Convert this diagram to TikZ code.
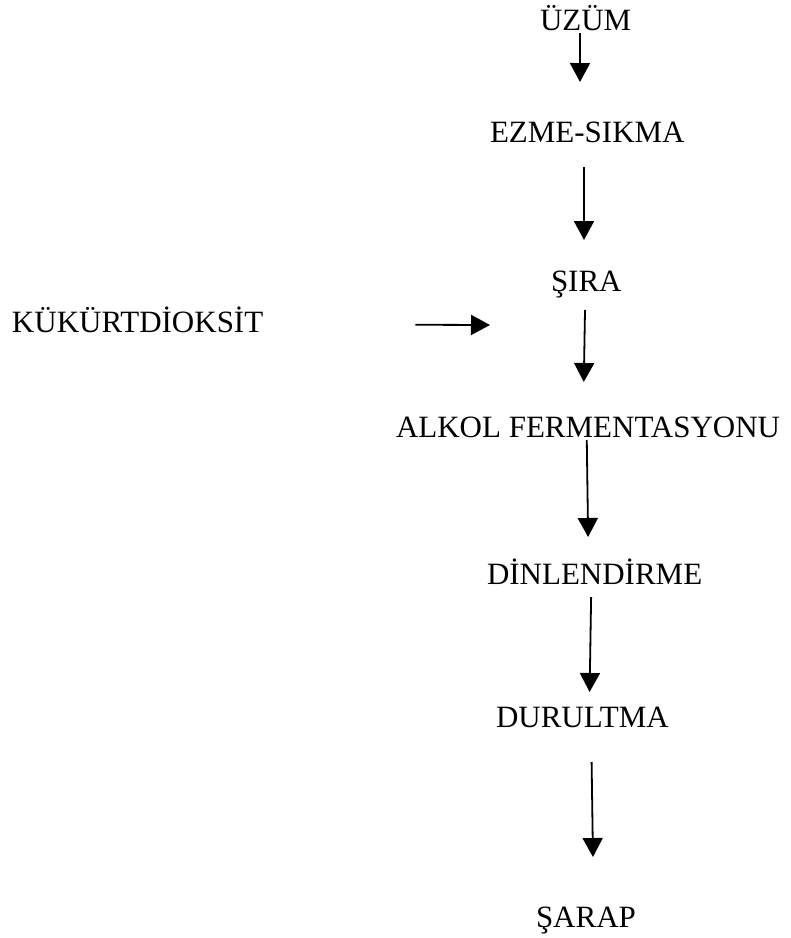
\documentclass[tikz,border=0pt]{standalone}
\usepackage{fontspec}
\setmainfont{Liberation Serif}
\usetikzlibrary{arrows.meta}
\tikzset{
  lbl/.style={inner sep=0pt, outer sep=0pt, anchor=base west, text height=20.5pt, text depth=0pt,
    font=\fontsize{31pt}{36pt}\selectfont},
  arr/.style={line width=1.8pt, -{Triangle[width=20pt,length=19pt]}},
}
\begin{document}
\begin{tikzpicture}[x=1pt,y=-1pt]
\useasboundingbox (0,0) rectangle (791,938);
\node[lbl] (uzum) at (540,30) {ÜZÜM};
\node[lbl] (ezme) at (490,142) {EZME-SIKMA};
\node[lbl] (sira) at (551,291) {ŞIRA};
\node[lbl] (kukurt) at (12,332) {KÜKÜRTDİOKSİT};
\node[lbl] (alkol) at (396,437) {ALKOL FERMENTASYONU};
\node[lbl] (dinlen) at (487,584) {DİNLENDİRME};
\node[lbl] (durultma) at (496,727) {DURULTMA};
\node[lbl] (sarap) at (536,927) {ŞARAP};
\coordinate (so2) at (490,325);

\draw[arr] ([xshift=-5.6pt,yshift=-3pt]uzum.south) -- ([xshift=-7.3pt,yshift=39.5pt]ezme.north);
\draw[arr] ([xshift=-3.3pt,yshift=-25pt]ezme.south) -- ([xshift=-2.3pt,yshift=30.5pt]sira.north);
\draw[arr] ([xshift=-1.3pt,yshift=-19pt]sira.south) -- ([xshift=-4.3pt,yshift=34.5pt]alkol.north);
\draw[arr] ([xshift=-1.3pt,yshift=-3pt]alkol.south) -- ([xshift=-6.5pt,yshift=26.5pt]dinlen.north);
\draw[arr] ([xshift=-3.5pt,yshift=-13pt]dinlen.south) -- ([xshift=7.2pt,yshift=14.5pt]durultma.north);
\draw[arr] ([xshift=9.2pt,yshift=-35pt]durultma.south) -- ([xshift=7pt,yshift=49.5pt]sarap.north);
\draw[arr] ([xshift=152pt,yshift=-3pt]kukurt.east) -- (so2);
\end{tikzpicture}
\end{document}
